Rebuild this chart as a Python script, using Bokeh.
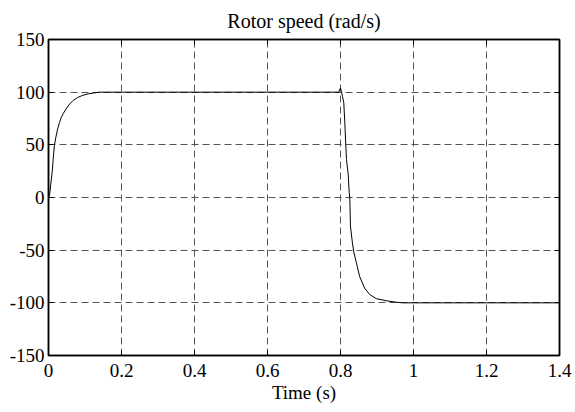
from bokeh.plotting import figure
from bokeh.models import Range1d, FixedTicker, LinearAxis
from bokeh.embed import file_html
from bokeh.resources import INLINE

# Rotor speed (rad/s)
time_s = [0.0, 0.003, 0.006, 0.010, 0.013, 0.016, 0.020, 0.025, 0.030, 0.035,
          0.040, 0.048, 0.056, 0.067, 0.080, 0.094, 0.110, 0.125, 0.140, 0.20,
          0.40, 0.60, 0.795, 0.800, 0.8055, 0.809, 0.8118, 0.8145, 0.8164,
          0.8211, 0.8238, 0.8255, 0.8272, 0.8326, 0.8361, 0.8435, 0.8524,
          0.866, 0.8796, 0.8978, 0.925, 0.950, 0.970, 1.0, 1.2, 1.4]
speed = [0.0, 2.5, 12.0, 24.0, 37.0, 49.0, 57.0, 65.0, 71.0, 76.0,
         79.5, 84.0, 88.0, 92.0, 95.0, 97.0, 98.5, 99.3, 100.0, 100.0,
         100.0, 100.0, 100.0, 104.0, 96.0, 90.0, 71.0, 50.0, 36.0,
         22.0, 5.0, 0.0, -27.0, -43.0, -51.0, -62.0, -75.0,
         -86.0, -92.0, -96.0, -98.0, -99.3, -100.0, -100.0, -100.0, -100.0]

x_ticks = [0, 0.2, 0.4, 0.6, 0.8, 1.0, 1.2, 1.4]
x_tick_labels = ["0", "0.2", "0.4", "0.6", "0.8", "1", "1.2", "1.4"]
y_ticks = [-150, -100, -50, 0, 50, 100, 150]
y_tick_labels = ["-150", "-100", "-50", "0", "50", "100", "150"]

FONT = "Liberation Serif"

p = figure(width=575, height=412, output_backend="svg", toolbar_location=None,
           x_range=Range1d(0, 1.4), y_range=Range1d(-150, 150),
           min_border_left=48, min_border_right=16, min_border_top=39,
           min_border_bottom=57, title="Rotor speed (rad/s)")

p.title.text_font = FONT
p.title.text_font_size = "20px"
p.title.text_font_style = "normal"
p.title.align = "center"
p.title.text_color = "black"
p.title.text_line_height = 1.0
p.title.standoff = 15

p.background_fill_color = "white"
p.border_fill_color = "white"
p.outline_line_color = "black"
p.outline_line_width = 1.5

for ax, ticks, labels in ((p.xaxis[0], x_ticks, x_tick_labels), (p.yaxis[0], y_ticks, y_tick_labels)):
    ax.ticker = FixedTicker(ticks=ticks)
    ax.major_label_overrides = {t: l for t, l in zip(ticks, labels)}
    ax.major_label_text_font = FONT
    ax.major_label_text_font_size = "19px"
    ax.major_label_text_color = "black"
    ax.major_tick_in = 5
    ax.major_tick_out = 0
    ax.minor_tick_line_color = None
    ax.axis_line_color = "black"
    ax.axis_line_width = 1.5
    ax.major_tick_line_color = "black"

p.yaxis.major_label_standoff = 4
p.xaxis.major_label_standoff = 8

p.xaxis.axis_label = "Time (s)"
p.xaxis.axis_label_text_font = FONT
p.xaxis.axis_label_text_font_size = "19px"
p.xaxis.axis_label_text_font_style = "normal"
p.xaxis.axis_label_text_color = "black"
p.xaxis.axis_label_standoff = 2

# inward ticks on top and right, with empty labels
top = LinearAxis(ticker=FixedTicker(ticks=x_ticks),
                 major_label_overrides={t: "" for t in x_ticks},
                 major_tick_in=5, major_tick_out=0, minor_tick_line_color=None,
                 axis_line_color="black", axis_line_width=1.5, major_label_standoff=0)
right = LinearAxis(ticker=FixedTicker(ticks=y_ticks),
                   major_label_overrides={t: "" for t in y_ticks},
                   major_tick_in=5, major_tick_out=0, minor_tick_line_color=None,
                   axis_line_color="black", axis_line_width=1.5, major_label_standoff=0)
p.add_layout(top, "above")
p.add_layout(right, "right")

for g in (p.xgrid[0], p.ygrid[0]):
    g.grid_line_color = "#555555"
    g.grid_line_dash = "7 4"
    g.grid_line_width = 1
p.xgrid[0].ticker = FixedTicker(ticks=x_ticks)
p.ygrid[0].ticker = FixedTicker(ticks=y_ticks)

p.line(time_s, speed, line_color="black", line_width=1)

open("out.html", "w").write(file_html(p, INLINE))
